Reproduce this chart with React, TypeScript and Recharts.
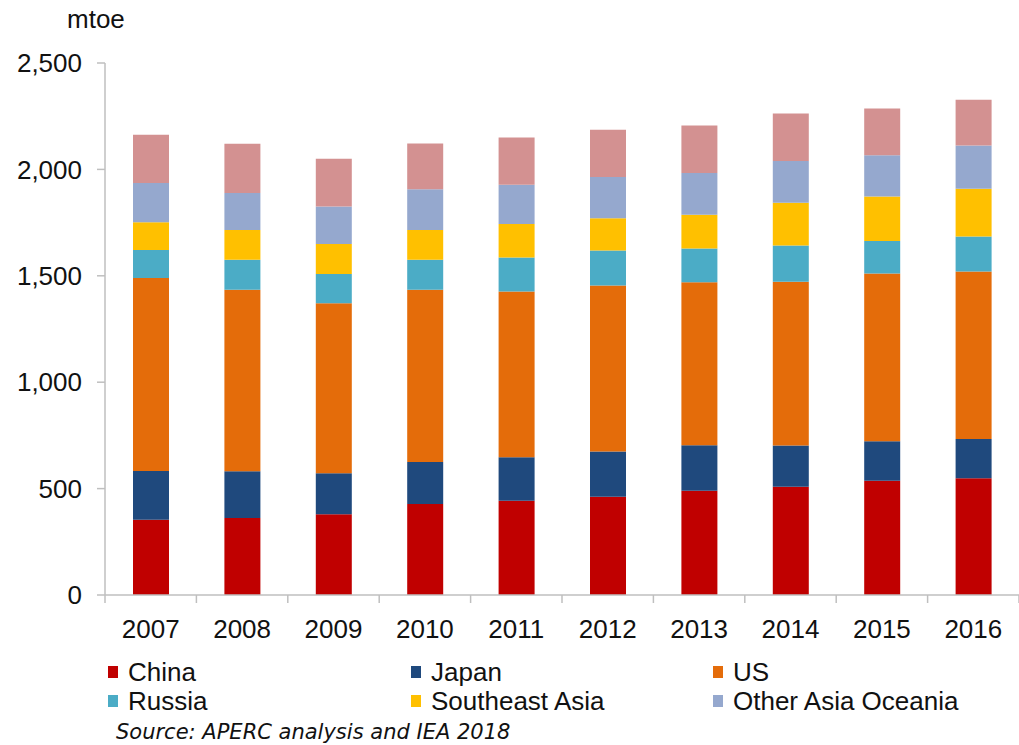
import React from "react";
import { Bar, BarChart, XAxis, YAxis } from "recharts";

const years = ["2007", "2008", "2009", "2010", "2011", "2012", "2013", "2014", "2015", "2016"];
const china = [354, 362, 379, 428, 443, 462, 490, 509, 537, 549];
const japan = [229, 220, 193, 197, 204, 212, 214, 193, 186, 184];
const us = [907, 852, 799, 809, 779, 780, 766, 770, 788, 787];
const russia = [131, 141, 138, 141, 160, 165, 158, 170, 153, 165];
const southeastAsia = [131, 140, 140, 140, 157, 152, 159, 201, 209, 224];
const otherAsiaOceania = [184, 174, 177, 192, 185, 193, 196, 196, 194, 203];
// top segment has no legend entry in the source
const otherRegions = [227, 231, 224, 215, 222, 222, 223, 224, 219, 215];
const yTicks = [0, 500, 1000, 1500, 2000, 2500];

const series = [
  { key: "china", name: "China", values: china, color: "#c00000" },
  { key: "japan", name: "Japan", values: japan, color: "#1f497d" },
  { key: "us", name: "US", values: us, color: "#e46c0a" },
  { key: "russia", name: "Russia", values: russia, color: "#4bacc6" },
  { key: "sea", name: "Southeast Asia", values: southeastAsia, color: "#ffc000" },
  { key: "oao", name: "Other Asia Oceania", values: otherAsiaOceania, color: "#95a8ce" },
  { key: "other", name: "Other", values: otherRegions, color: "#d39191" },
];

const data = years.map((year, i) => {
  const row: Record<string, string | number> = { year };
  series.forEach((s) => (row[s.key] = s.values[i]));
  return row;
});

const font = "'Liberation Sans', Arial, sans-serif";
const axisGrey = "#bfbfbf";
const band = 914 / years.length;

function YearTick(props: any) {
  const { x, y, payload, index } = props;
  return (
    <g>
      <line x1={x - band / 2} x2={x - band / 2} y1={y} y2={y + 8} stroke={axisGrey} strokeWidth={1.5} />
      {index === years.length - 1 && (
        <line x1={x + band / 2} x2={x + band / 2} y1={y} y2={y + 8} stroke={axisGrey} strokeWidth={1.5} />
      )}
      <text x={x} y={y + 34} textAnchor="middle" dominantBaseline="central" fontSize={26} fontFamily={font} fill="#111">
        {payload.value}
      </text>
    </g>
  );
}

const legendRows = [
  [series[0], series[1], series[2]],
  [series[3], series[4], series[5]],
];
const legendCols = [108, 411, 713];

export default function App() {
  return (
    <div style={{ position: "absolute", left: 0, top: 0, width: 1019, height: 745, background: "#fff", fontFamily: font }}>
      <div style={{ position: "absolute", left: 67, top: 4, fontSize: 26, color: "#111" }}>mtoe</div>
      <BarChart width={1019} height={745} data={data} margin={{ top: 63, right: 0, bottom: 100, left: 0 }} barSize={36}>
        <XAxis
          dataKey="year"
          tick={<YearTick />}
          tickLine={false}
          tickSize={0}
          tickMargin={0}
          height={50}
          stroke={axisGrey}
          strokeWidth={1.5}
          interval={0}
        />
        <YAxis
          domain={[0, 2500]}
          ticks={yTicks}
          width={105}
          tickSize={8}
          tickMargin={15}
          stroke={axisGrey}
          strokeWidth={1.5}
          tickFormatter={(v: number) => v.toLocaleString("en-US")}
          tick={{ fontSize: 26, fontFamily: font, fill: "#111" }}
        />
        {series.map((s) => (
          <Bar key={s.key} dataKey={s.key} name={s.name} stackId="a" fill={s.color} isAnimationActive={false} />
        ))}
      </BarChart>
      {legendRows.map((row, r) =>
        row.map((s, c) => (
          <div
            key={s.key}
            style={{
              position: "absolute",
              left: legendCols[c],
              top: 657 + r * 29,
              height: 30,
              display: "flex",
              alignItems: "center",
              fontSize: 26,
              color: "#111",
              whiteSpace: "nowrap",
            }}
          >
            <span style={{ display: "inline-block", width: 10, height: 12, background: s.color, marginRight: 10 }} />
            {s.name}
          </div>
        ))
      )}
      <div
        style={{
          position: "absolute",
          left: 116,
          top: 720,
          fontSize: 21,
          fontStyle: "italic",
          fontFamily: "'DejaVu Sans', Verdana, sans-serif",
          color: "#111",
          whiteSpace: "nowrap",
        }}
      >
        Source: APERC analysis and IEA 2018
      </div>
    </div>
  );
}
